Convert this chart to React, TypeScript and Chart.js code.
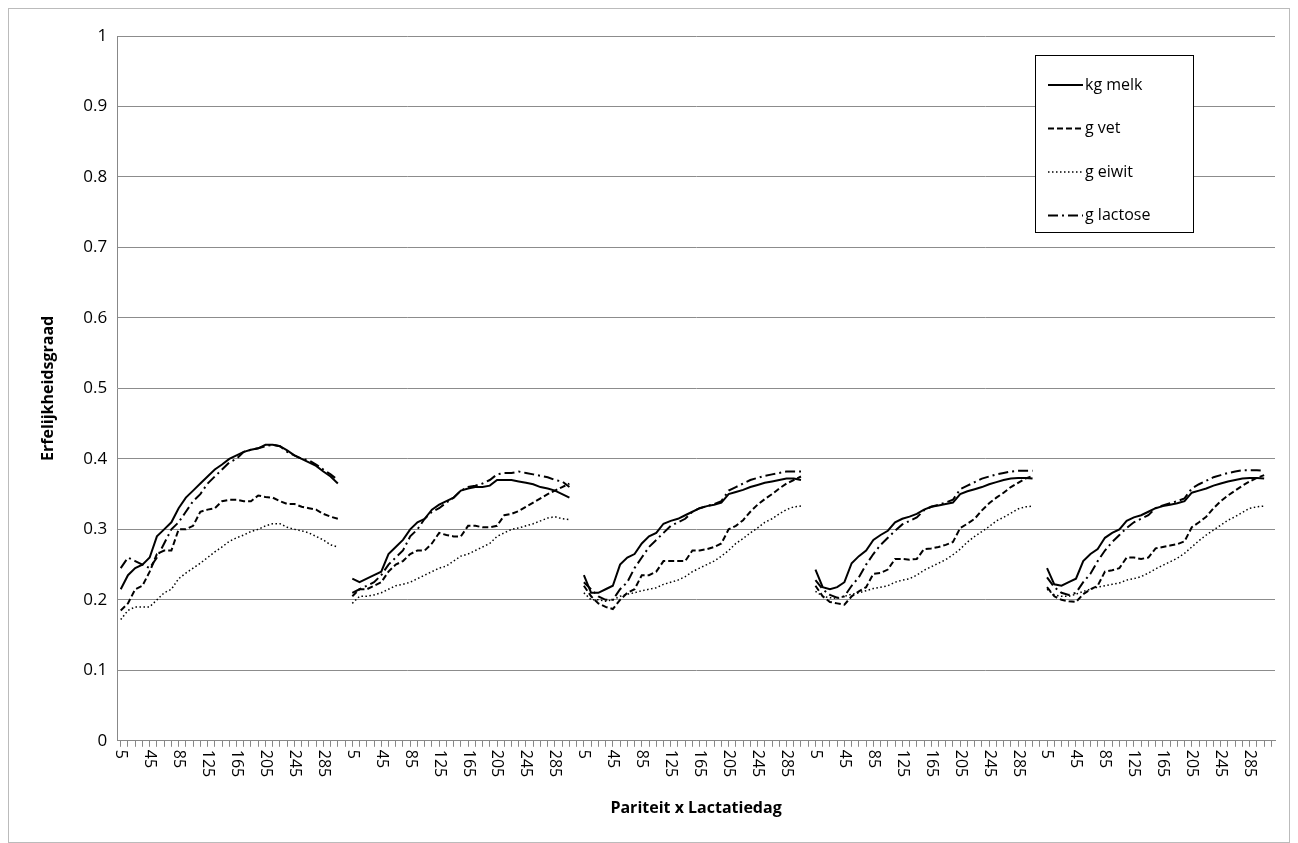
import { useEffect, useRef } from "react";
import { Chart, registerables } from "chart.js";

Chart.register(...registerables);

const days = Array.from({ length: 31 }, (_, i) => 5 + i * 10);

// per parity: 31 values (day 5..305)
const melk = [
  [.215,.235,.245,.25,.26,.29,.30,.31,.33,.345,.355,.365,.375,.385,.392,.40,.405,.41,.413,.415,.42,.42,.418,.412,.405,.40,.395,.39,.382,.375,.365],
  [.23,.225,.23,.235,.24,.265,.275,.285,.30,.31,.315,.328,.335,.34,.345,.355,.358,.36,.36,.362,.37,.37,.37,.368,.366,.364,.36,.358,.355,.35,.345],
  [.235,.21,.21,.215,.22,.25,.26,.265,.28,.29,.295,.308,.312,.315,.32,.325,.33,.333,.335,.338,.35,.353,.356,.36,.363,.366,.368,.37,.372,.372,.37],
  [.243,.218,.215,.218,.225,.252,.262,.27,.285,.292,.298,.31,.315,.318,.322,.328,.332,.334,.336,.338,.35,.354,.357,.36,.364,.367,.37,.372,.373,.373,.372],
  [.245,.222,.22,.225,.23,.255,.265,.272,.288,.295,.30,.312,.317,.32,.325,.33,.333,.335,.337,.34,.352,.355,.358,.362,.365,.368,.37,.372,.373,.373,.372],
];
const vet = [
  [.185,.195,.215,.22,.24,.265,.27,.27,.30,.30,.305,.325,.328,.33,.34,.342,.342,.34,.34,.348,.346,.345,.34,.336,.336,.332,.33,.328,.322,.318,.315],
  [.205,.215,.215,.22,.225,.24,.25,.255,.265,.27,.27,.28,.295,.292,.29,.29,.305,.305,.303,.303,.305,.32,.322,.326,.332,.338,.344,.35,.355,.36,.365],
  [.22,.205,.195,.19,.187,.20,.21,.215,.235,.235,.24,.255,.255,.255,.255,.27,.27,.272,.275,.28,.30,.305,.313,.325,.335,.343,.35,.358,.365,.37,.375],
  [.22,.205,.197,.195,.193,.205,.212,.218,.237,.238,.243,.258,.258,.257,.258,.272,.273,.275,.278,.282,.302,.308,.315,.327,.337,.345,.352,.36,.366,.372,.376],
  [.218,.205,.2,.198,.197,.208,.215,.22,.24,.242,.245,.26,.26,.258,.26,.273,.275,.277,.279,.283,.303,.31,.318,.33,.34,.348,.355,.362,.368,.373,.377],
];
const eiwit = [
  [.172,.185,.19,.19,.19,.20,.21,.215,.23,.238,.245,.252,.26,.268,.275,.283,.288,.292,.297,.30,.305,.308,.308,.303,.300,.298,.295,.29,.285,.278,.275],
  [.195,.205,.205,.207,.21,.215,.22,.222,.225,.23,.235,.24,.245,.248,.255,.262,.265,.27,.275,.28,.29,.295,.30,.302,.305,.308,.312,.316,.318,.315,.314],
  [.21,.20,.20,.198,.20,.205,.208,.21,.213,.215,.217,.222,.225,.228,.233,.24,.245,.25,.255,.262,.27,.28,.287,.295,.302,.31,.315,.322,.328,.332,.333],
  [.212,.205,.203,.202,.205,.208,.21,.213,.216,.218,.22,.225,.228,.23,.235,.242,.247,.252,.257,.264,.272,.282,.29,.297,.304,.312,.317,.323,.329,.332,.333],
  [.215,.207,.205,.205,.208,.212,.215,.218,.22,.222,.224,.228,.23,.233,.238,.244,.249,.254,.259,.266,.275,.284,.292,.299,.306,.313,.318,.324,.33,.332,.333],
];
const lactose = [
  [.245,.26,.255,.25,.245,.26,.28,.30,.31,.325,.34,.35,.365,.375,.385,.395,.40,.41,.413,.415,.418,.42,.418,.41,.405,.40,.398,.392,.385,.378,.37],
  [.21,.215,.22,.225,.235,.25,.26,.27,.29,.30,.315,.325,.33,.338,.345,.355,.36,.362,.365,.37,.378,.38,.38,.382,.38,.378,.376,.374,.37,.368,.36],
  [.225,.215,.205,.20,.20,.215,.225,.245,.26,.275,.285,.295,.305,.31,.315,.325,.33,.333,.336,.34,.355,.36,.365,.37,.373,.376,.378,.38,.382,.382,.382],
  [.228,.215,.207,.203,.205,.22,.232,.25,.265,.278,.288,.298,.307,.312,.317,.327,.332,.335,.338,.342,.357,.362,.367,.372,.375,.378,.38,.382,.383,.383,.383],
  [.232,.218,.21,.207,.21,.225,.237,.255,.27,.282,.292,.302,.31,.315,.32,.33,.334,.337,.34,.344,.358,.364,.369,.374,.377,.38,.382,.384,.384,.384,.383],
];

const labels: string[] = [];
for (let p = 0; p < 5; p++) {
  days.forEach((d) => labels.push(String(d)));
  labels.push("");
}
const flat = (s: number[][]) => s.flatMap((g) => [...g, null]);

const series = [
  { label: "kg melk", data: melk, dash: [] as number[], width: 2 },
  { label: "g vet", data: vet, dash: [6, 3], width: 2 },
  { label: "g eiwit", data: eiwit, dash: [1.5, 2.5], width: 1.5 },
  { label: "g lactose", data: lactose, dash: [10, 4, 2, 4], width: 2 },
];

const FONT = "'Open Sans', 'Liberation Sans', sans-serif";

const customDraw = {
  id: "customDraw",
  afterDraw(chart: any) {
    const ctx = chart.ctx;
    const x = chart.scales.x;
    const area = chart.chartArea;
    ctx.save();
    // rotated tick labels reading top-to-bottom
    ctx.fillStyle = "#000";
    ctx.font = `16px ${FONT}`;
    ctx.textBaseline = "middle";
    ctx.textAlign = "left";
    labels.forEach((l, i) => {
      if (l === "" || (Number(l) - 5) % 40 !== 0) return;
      const px = x.getPixelForValue(i);
      ctx.save();
      ctx.translate(px, area.bottom + 9);
      ctx.rotate(Math.PI / 2);
      ctx.fillText(l, 0, 0);
      ctx.restore();
    });
    // legend
    const bx = area.right - 240, by = area.top + 19, bw = 158, bh = 177;
    ctx.fillStyle = "#fff";
    ctx.fillRect(bx, by, bw, bh);
    ctx.strokeStyle = "#000";
    ctx.lineWidth = 1;
    ctx.setLineDash([]);
    ctx.strokeRect(bx + 0.5, by + 0.5, bw, bh);
    series.forEach((s, i) => {
      const y = by + 30 + i * 43.5;
      ctx.beginPath();
      ctx.setLineDash(s.dash);
      ctx.lineWidth = s.width;
      ctx.moveTo(bx + 13, y);
      ctx.lineTo(bx + 48, y);
      ctx.stroke();
      ctx.setLineDash([]);
      ctx.fillStyle = "#000";
      ctx.font = `16px ${FONT}`;
      ctx.fillText(s.label, bx + 50, y);
    });
    ctx.restore();
  },
};

export default function App() {
  const ref = useRef<HTMLCanvasElement>(null);
  useEffect(() => {
    if (!ref.current) return;
    const chart = new Chart(ref.current, {
      type: "line",
      data: {
        labels,
        datasets: series.map((s) => ({
          label: s.label,
          data: flat(s.data),
          borderColor: "#000",
          borderWidth: s.width,
          borderDash: s.dash,
          pointRadius: 0,
          tension: 0,
          spanGaps: false,
        })),
      },
      options: {
        animation: false,
        responsive: true,
        maintainAspectRatio: false,
        layout: { padding: { top: 27, right: 14, left: 26, bottom: 24 } },
        plugins: { legend: { display: false }, tooltip: { enabled: false } },
        scales: {
          x: {
            offset: true,
            grid: { drawOnChartArea: false, drawTicks: true, tickLength: 6, color: "#888" },
            border: { color: "#888" },
            ticks: { display: false, autoSkip: false },
            title: {
              display: true,
              text: "Pariteit x Lactatiedag",
              font: { family: FONT, size: 16, weight: "bold" },
              color: "#000",
              padding: { top: 52, bottom: 0 },
            },
          },
          y: {
            min: 0,
            max: 1,
            ticks: {
              stepSize: 0.1,
              color: "#000",
              font: { family: FONT, size: 17 },
              padding: 10,
              callback: (v: any) => String(Math.round(Number(v) * 10) / 10),
            },
            grid: { color: "#8c8c8c", drawTicks: false },
            border: { color: "#888" },
            title: {
              display: true,
              text: "Erfelijkheidsgraad",
              font: { family: FONT, size: 16, weight: "bold" },
              color: "#000",
              padding: { bottom: 15 },
            },
          },
        },
      },
      plugins: [customDraw],
    } as any);
    return () => chart.destroy();
  }, []);
  return (
    <div style={{ width: 1282, height: 835, border: "1px solid #bbb", boxSizing: "border-box", background: "#fff" }}>
      <canvas ref={ref} />
    </div>
  );
}
